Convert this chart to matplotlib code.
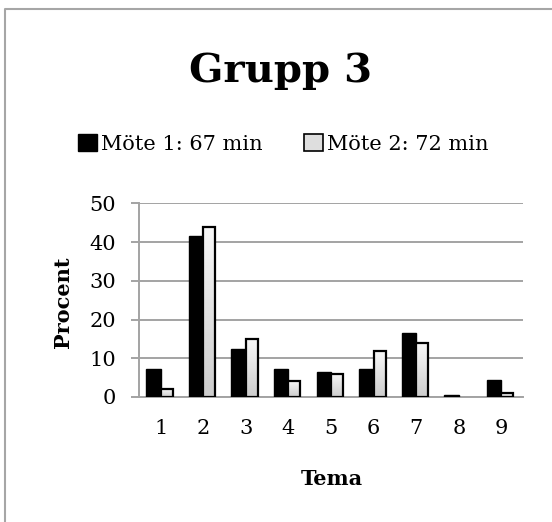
import numpy as np
import matplotlib
matplotlib.use('Agg')
import matplotlib.pyplot as plt
from matplotlib.lines import Line2D
from matplotlib.patches import Rectangle

# Andel av mötestiden per tema (procent)
teman = ['1', '2', '3', '4', '5', '6', '7', '8', '9']
mote1 = [7.3, 41.6, 12.5, 7.3, 6.5, 7.3, 16.6, 0.5, 4.5]
mote2 = [2.0, 44.0, 15.0, 4.0, 6.0, 12.0, 14.0, 0.0, 1.0]
serier = ['Möte 1: 67 min', 'Möte 2: 72 min']
y_ticks = [0, 10, 20, 30, 40, 50]

plt.rcParams['font.family'] = ['DejaVu Serif']
grid_col = '#a3a3a3'

fig = plt.figure(figsize=(5.52, 5.22), dpi=100)
ax = fig.add_axes([0.2524, 0.2395, 0.6946, 0.371])

x = np.arange(1, len(teman) + 1)
b1 = ax.bar(x - 0.34, mote1, width=0.34, align='edge', color='black',
            edgecolor='black', linewidth=1.0, zorder=3)
b2 = ax.bar(x, mote2, width=0.28, align='edge', color='none',
            edgecolor='black', linewidth=1.6, zorder=4)

# ljus gradient i de vita staplarna, tomma staplar ritas inte
grad = np.linspace(0.97, 0.80, 64).reshape(-1, 1)
for r in b2:
    if r.get_height() <= 0:
        r.set_visible(False)
        continue
    x0, w, h = r.get_x(), r.get_width(), r.get_height()
    im = ax.imshow(grad, extent=[x0, x0 + w, 0, h], cmap='gray', vmin=0, vmax=1,
                   aspect='auto', origin='upper', zorder=3.5)
    im.set_clip_path(Rectangle((x0, 0), w, h, transform=ax.transData))

ax.set_xlim(0.5, len(teman) + 0.5)
ax.set_ylim(0, 50)
ax.set_xticks(x)
ax.set_xticklabels(teman)
ax.set_yticks(y_ticks)

ax.grid(axis='y', color=grid_col, linewidth=1.4, zorder=0)
for s in ['top', 'right']:
    ax.spines[s].set_visible(False)
ax.spines['left'].set_color(grid_col)
ax.spines['left'].set_linewidth(1.4)
ax.spines['bottom'].set_color(grid_col)
ax.spines['bottom'].set_linewidth(1.4)
ax.tick_params(axis='y', direction='out', length=6, width=1.4, color=grid_col,
               labelsize=15, pad=11)
ax.tick_params(axis='x', length=0, labelsize=15, pad=16)

ax.set_ylabel('Procent', fontsize=15, fontweight='bold', va='center')
ax.yaxis.set_label_coords(-0.20, 0.49)
ax.set_xlabel('Tema', fontsize=15, fontweight='bold', va='center')
ax.xaxis.set_label_coords(0.5026, -0.423)

fig.text(0.509, 0.843, 'Grupp 3', fontsize=29, fontweight='bold',
         ha='center', va='baseline')

leg = ax.legend([b1[0], Rectangle((0, 0), 1, 1, facecolor='#dedede',
                 edgecolor='black', linewidth=1.2)], serier,
                loc='center', bbox_to_anchor=(0.513, 0.724),
                bbox_transform=fig.transFigure, ncol=2, frameon=False,
                fontsize=15, handlelength=0.9, handleheight=0.85,
                handletextpad=0.2, columnspacing=2.0)

# ram upptill och till vänster
fig.add_artist(Line2D([4.5 / 552, 4.5 / 552, 1.0], [0.0, 1 - 8.5 / 522, 1 - 8.5 / 522],
                      transform=fig.transFigure, color='#a6a6a6', linewidth=1.5))

fig.savefig('out.png', dpi=100)
